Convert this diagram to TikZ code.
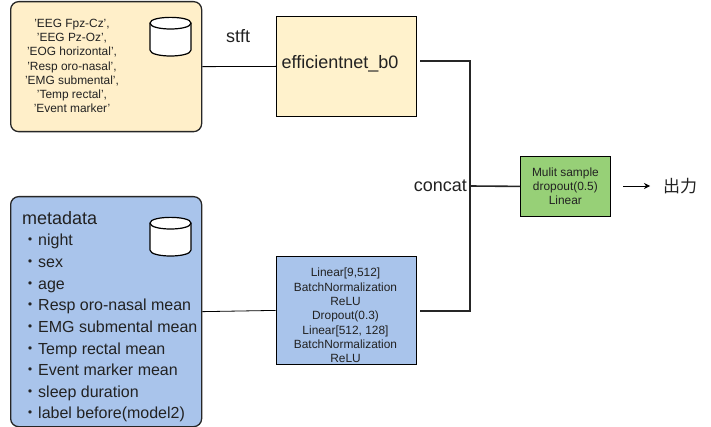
\documentclass[tikz,border=0pt]{standalone}
\usepackage{fontspec}
\setmainfont{Liberation Sans}
\newfontfamily\cjk{Noto Sans CJK JP}
\usetikzlibrary{arrows.meta,calc}
\definecolor{ylw}{HTML}{FFF2CC}
\definecolor{ylwb}{HTML}{FFEFC9}
\definecolor{blu}{HTML}{A9C4EB}
\definecolor{grn}{HTML}{97D077}
\definecolor{txt}{HTML}{222222}
\newcommand{\cyl}[2]{%
  \draw[line width=1.2pt,fill=white,rounded corners=0pt] (#1,#2+6) .. controls (#1,#2-1.5) and (#1+41,#2-1.5) .. (#1+41,#2+6)
    -- (#1+41,#2+33) .. controls (#1+41,#2+41) and (#1,#2+41) .. (#1,#2+33) -- cycle;
  \draw[line width=1.2pt] (#1,#2+6) .. controls (#1,#2+14) and (#1+41,#2+14) .. (#1+41,#2+6);}
\tikzset{
  x=1pt,y=-1pt,
  databox/.style={draw=black!85,line width=1.3pt,rounded corners=8pt,anchor=north west,inner sep=0pt,minimum width=191pt},
  modelbox/.style={draw=black,line width=0.8pt,anchor=north west,inner sep=0pt,align=center,text=txt},
  thin line/.style={draw=black,line width=0.8pt},
  thick line/.style={draw=black!85,line width=2pt},
  small/.style={font=\fontsize{11.9}{14.3}\selectfont},
  big/.style={font=\fontsize{16}{18}\selectfont,text=txt,inner sep=0pt},
  large/.style={font=\fontsize{18}{20}\selectfont,text=txt,inner sep=0pt},
}
\begin{document}
\begin{tikzpicture}
\useasboundingbox (0,0) rectangle (711,427);
\fill[white] (0,0) rectangle (711,427);
\node[databox,fill=ylwb,minimum height=130pt] (sig) at (10,1) {};
\node[databox,fill=blu,minimum height=230pt] (meta) at (10,196) {};
\node[modelbox,fill=ylw,minimum width=140pt,minimum height=100pt] (eff) at (276,16) {};
\node[large] (efftext) at (340,64) {efficientnet\_b0};
\node[modelbox,fill=blu,minimum width=140pt,minimum height=108pt] (lin) at (275.5,256) {};
\node[modelbox,fill=grn,minimum width=90pt,minimum height=60pt,small] (out) at (520,156) {Mulit sample\\dropout(0.5)\\Linear};
\node[small,align=center,text=txt] (siglist) at (72,66) {'EEG Fpz-Cz',\\'EEG Pz-Oz',\\'EOG horizontal',\\'Resp oro-nasal',\\'EMG submental',\\'Temp rectal',\\'Event marker'};
\node[small,align=center,text=txt,inner sep=0pt] (linlist) at (345.5,315.5) {Linear[9,512]\\BatchNormalization\\ReLU\\Dropout(0.3)\\Linear[512, 128]\\BatchNormalization\\ReLU};
\cyl{150}{17}
\cyl{150}{217}
\node[large,anchor=base west] (mt) at (22,225) {metadata};
\foreach \n/\t [count=\i from 0] in {a/night,b/sex,c/age,d/Resp oro-nasal mean,e/EMG submental mean,f/Temp rectal mean,g/Event marker mean,h/sleep duration,i/label before(model2)} {
  \node[big,anchor=base west] (item\n) at (22,246+21.6*\i) {{\cjk ・}\t};
}
\node[large,anchor=base] (stft) at (238,43) {stft};
\node[large,anchor=base east] (concat) at (467,192) {concat};
\node[large,font=\fontsize{17}{20}\selectfont] (res) at (680,186) {\cjk 出力};
\coordinate (e1) at (420,61);
\coordinate (e2) at (420,311);
\coordinate (j1) at (470,61);
\coordinate (j2) at (470,311);
\coordinate (j3) at (470,186);
\coordinate (a1) at (623,186);
\coordinate (a2) at (650,186);
\draw[thin line] (sig.east) -- (eff.west);
\draw[thin line] (meta.east) -- (lin.west);
\draw[thick line] (e1) -- (j1) -- (j2) -- (e2);
\draw[thick line,line width=1.6pt] (j3) -- (out.west);
\draw[thin line,-{Stealth[length=6pt,width=6pt]}] (a1) -- (a2);
\end{tikzpicture}
\end{document}
